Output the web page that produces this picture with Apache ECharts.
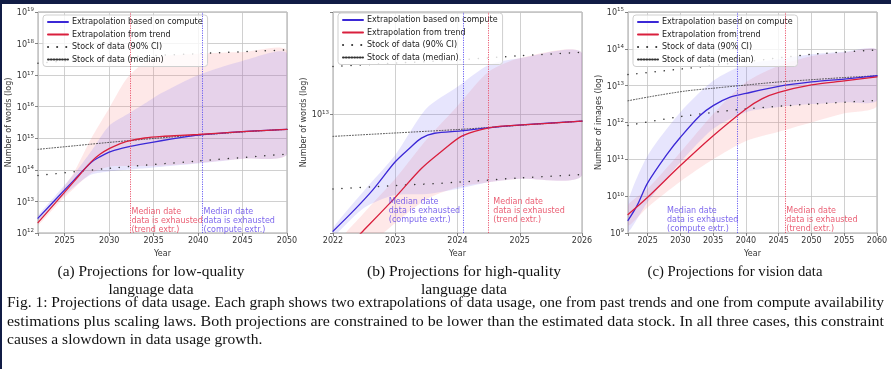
<!DOCTYPE html>
<html><head><meta charset="utf-8">
<script src="https://cdn.jsdelivr.net/npm/echarts@6/dist/echarts.min.js"></script>
<style>html,body{margin:0;padding:0;background:#fff}#c{width:891px;height:369px}</style>
</head><body><div id="c"></div>
<script>
// ---------------- DATA ----------------
const LEGEND_NAMES = ['Extrapolation based on compute', 'Extrapolation from trend', 'Stock of data (90% CI)', 'Stock of data (median)'];

// (a) low-quality language data
const A_YEARS = [2022, 2024, 2026, 2028, 2029, 2030, 2031, 2032, 2034, 2036, 2038, 2040, 2045, 2050];
const A_COMPUTE = [2.95e12, 1.17e13, 4.57e13, 1.74e14, 2.63e14, 3.63e14, 4.47e14, 5.25e14, 6.76e14, 8.51e14, 1.05e15, 1.26e15, 1.62e15, 1.91e15];
const A_TREND = [2.14e12, 9.33e12, 4.17e13, 1.82e14, 3.16e14, 4.68e14, 6.31e14, 7.94e14, 1.02e15, 1.15e15, 1.23e15, 1.32e15, 1.62e15, 1.91e15];
const A_MED_YEARS = [2022, 2026, 2030, 2034, 2038, 2042, 2046, 2050];
const A_MEDIAN = [4.47e14, 5.75e14, 7.41e14, 9.33e14, 1.15e15, 1.38e15, 1.66e15, 1.91e15];
const A_CI_YEARS = [2022, 2030, 2040, 2050];
const A_CI_HIGH = [2.4e17, 3.55e17, 4.79e17, 6.31e17];
const A_CI_LOW = [6.61e13, 1.12e14, 1.91e14, 3.16e14];
const A_BAND_YEARS = [2022, 2024, 2026, 2028, 2030, 2032, 2034, 2036, 2040, 2045, 2050];
const A_COMPUTE_HIGH = [3.55e12, 1.58e13, 7.08e13, 3.98e14, 2.51e15, 5.62e15, 1.26e16, 2.82e16, 1e17, 2.82e17, 4.79e17];
const A_COMPUTE_LOW = [2.4e12, 8.91e12, 2.82e13, 7.08e13, 8.91e13, 1e14, 1.12e14, 1.26e14, 1.58e14, 2.24e14, 3.16e14];
const A_TREND_HIGH = [2.63e12, 1.26e13, 7.94e13, 1e15, 8.91e15, 7.94e16, 2.51e17, 3.98e17, 4.79e17, 5.37e17, 6.03e17];
const A_TREND_LOW = [1.78e12, 7.08e12, 2.51e13, 7.94e13, 1.26e14, 1.32e14, 1.32e14, 1.38e14, 1.66e14, 2.24e14, 3.16e14];
const A_EXHAUST_TREND = 2032.4;
const A_EXHAUST_COMPUTE = 2040.5;

// (b) high-quality language data
const B_COMPUTE_YEARS = [2022, 2022.32, 2022.64, 2023, 2023.23, 2023.42, 2023.63, 2024.06, 2024.49, 2025.03, 2026];
const B_COMPUTE = [2.05e12, 2.68e12, 3.59e12, 5.25e12, 6.31e12, 7.24e12, 7.73e12, 7.98e12, 8.32e12, 8.65e12, 9.12e12];
const B_TREND_YEARS = [2022, 2022.48, 2022.99, 2023.42, 2023.74, 2024.06, 2024.38, 2024.7, 2025.03, 2026];
const B_TREND = [1.35e12, 2.05e12, 3.21e12, 4.79e12, 6.03e12, 7.41e12, 8.13e12, 8.51e12, 8.65e12, 9.12e12];
const B_STOCK_YEARS = [2022, 2023, 2024, 2025, 2026];
const B_MEDIAN = [7.41e12, 7.76e12, 8.13e12, 8.61e12, 9.12e12];
const B_CI_HIGH = [1.91e13, 2.0e13, 2.09e13, 2.21e13, 2.32e13];
const B_CI_LOW = [3.63e12, 3.8e12, 3.98e12, 4.22e12, 4.42e12];
const B_BAND_YEARS = [2022, 2022.5, 2023, 2023.5, 2024, 2024.5, 2025, 2026];
const B_COMPUTE_HIGH = [2.14e12, 3.55e12, 5.75e12, 1.08e13, 1.45e13, 1.95e13, 2.14e13, 2.29e13];
const B_COMPUTE_LOW = [1.91e12, 2.82e12, 3.35e12, 3.39e12, 3.63e12, 3.98e12, 4.17e12, 4.37e12];
const B_TREND_HIGH = [1.58e12, 2.63e12, 4.17e12, 7.08e12, 1.12e13, 1.78e13, 2.14e13, 2.29e13];
const B_TREND_LOW = [1e12, 1.58e12, 2.29e12, 3.16e12, 3.72e12, 3.98e12, 4.17e12, 4.37e12];
const B_EXHAUST_COMPUTE = 2024.1;
const B_EXHAUST_TREND = 2024.5;

// (c) vision data
const C_COMPUTE_YEARS = [2022, 2023.4, 2025, 2028, 2030, 2033, 2035, 2037.5, 2040, 2045, 2050, 2055, 2060];
const C_COMPUTE = [2.19e9, 5.62e9, 2.29e10, 1.41e11, 3.98e11, 1.55e12, 2.88e12, 4.79e12, 6.17e12, 9.55e12, 1.26e13, 1.51e13, 1.86e13];
const C_TREND_YEARS = [2022, 2025, 2030, 2035, 2040, 2042.5, 2045, 2050, 2055, 2060];
const C_TREND = [3.16e9, 9.33e9, 6.76e10, 4.37e11, 2.34e12, 4.47e12, 6.61e12, 1.05e13, 1.35e13, 1.74e13];
const C_MED_YEARS = [2022, 2026, 2031, 2035, 2039, 2045, 2050, 2055, 2060];
const C_MEDIAN = [3.89e12, 5.25e12, 7.24e12, 8.51e12, 1e13, 1.26e13, 1.45e13, 1.66e13, 1.86e13];
const C_CI_YEARS = [2022, 2030, 2040, 2050, 2060];
const C_CI_HIGH = [2e13, 2.82e13, 4.47e13, 7.08e13, 9.33e13];
const C_CI_LOW = [8.32e11, 1.45e12, 2.34e12, 3.16e12, 3.98e12];
const C_BAND_YEARS = [2022, 2025, 2030, 2035, 2040, 2045, 2050, 2055, 2060];
const C_COMPUTE_HIGH = [6.92e9, 1.26e11, 1.91e12, 1.35e13, 3.8e13, 5.25e13, 7.08e13, 8.32e13, 9.33e13];
const C_COMPUTE_LOW = [1.07e9, 6.92e9, 8.32e10, 6.76e11, 1.91e12, 2.63e12, 3.16e12, 3.55e12, 3.98e12];
const C_TREND_HIGH = [5.62e9, 1.58e10, 1.55e11, 1.7e12, 1.23e13, 3.47e13, 6.31e13, 7.94e13, 9.33e13];
const C_TREND_LOW = [1.58e9, 5.01e9, 2.51e10, 1e11, 3.16e11, 5.62e11, 1e12, 1.78e12, 2.82e12];
const C_EXHAUST_COMPUTE = 2038.7;
const C_EXHAUST_TREND = 2046.0;

const NOTE_TREND = 'Median date\ndata is exhausted\n(trend extr.)';
const NOTE_COMPUTE = 'Median date\ndata is exhausted\n(compute extr.)';

const SUB_CAPTIONS = [
  ['(a) Projections for low-quality', 'language data'],
  ['(b) Projections for high-quality', 'language data'],
  ['(c) Projections for vision data']
];
const CAPTION_LINES = [
  'Fig. 1: Projections of data usage. Each graph shows two extrapolations of data usage, one from past trends and one from compute availability',
  'estimations plus scaling laws. Both projections are constrained to be lower than the estimated data stock. In all three cases, this constraint',
  'causes a slowdown in data usage growth.'
];

// ---------------- STYLE ----------------
const BLUE = '#3b28d6', RED = '#d91f3d';
const BLUE_TXT = '#5a3ee8', RED_TXT = '#e5354f';
const BLUE_BAND = 'rgba(105,95,240,0.16)', RED_BAND = 'rgba(250,115,115,0.16)';
const SANS = 'DejaVu Sans';
const SERIF = 'Liberation Serif';

const PANELS = [
  {left: 38, xMin: 2022, xMax: 2050, split: 6, yMin: 1e12, yMax: 1e19, yName: 'Number of words (log)',
   compute: [A_YEARS, A_COMPUTE], trend: [A_YEARS, A_TREND], median: [A_MED_YEARS, A_MEDIAN],
   ciHigh: [A_CI_YEARS, A_CI_HIGH], ciLow: [A_CI_YEARS, A_CI_LOW],
   bandC: [A_BAND_YEARS, A_COMPUTE_HIGH, A_COMPUTE_LOW], bandT: [A_BAND_YEARS, A_TREND_HIGH, A_TREND_LOW],
   exC: A_EXHAUST_COMPUTE, exT: A_EXHAUST_TREND,
   noteC: [A_EXHAUST_COMPUTE, 2.45e12], noteT: [A_EXHAUST_TREND, 2.45e12], legendTop: 15},
  {left: 333, xMin: 2022, xMax: 2026, interval: 1, yMin: 2e12, yMax: 4e13, yName: 'Number of words (log)',
   compute: [B_COMPUTE_YEARS, B_COMPUTE], trend: [B_TREND_YEARS, B_TREND], median: [B_STOCK_YEARS, B_MEDIAN],
   ciHigh: [B_STOCK_YEARS, B_CI_HIGH], ciLow: [B_STOCK_YEARS, B_CI_LOW],
   bandC: [B_BAND_YEARS, B_COMPUTE_HIGH, B_COMPUTE_LOW], bandT: [B_BAND_YEARS, B_TREND_HIGH, B_TREND_LOW],
   exC: B_EXHAUST_COMPUTE, exT: B_EXHAUST_TREND,
   noteC: [2022.88, 2.69e12], noteT: [2024.56, 2.69e12], legendTop: 13},
  {left: 628, xMin: 2022, xMax: 2060, split: 8, yMin: 1e9, yMax: 1e15, yName: 'Number of images (log)',
   compute: [C_COMPUTE_YEARS, C_COMPUTE], trend: [C_TREND_YEARS, C_TREND], median: [C_MED_YEARS, C_MEDIAN],
   ciHigh: [C_CI_YEARS, C_CI_HIGH], ciLow: [C_CI_YEARS, C_CI_LOW],
   bandC: [C_BAND_YEARS, C_COMPUTE_HIGH, C_COMPUTE_LOW], bandT: [C_BAND_YEARS, C_TREND_HIGH, C_TREND_LOW],
   exC: C_EXHAUST_COMPUTE, exT: C_EXHAUST_TREND,
   noteC: [2027.8, 2.29e9], noteT: [C_EXHAUST_TREND, 2.29e9], legendTop: 15}
];

const PLOT_TOP = 12, PLOT_W = 249, PLOT_H = 221;

function pairs(xs, ys) { return xs.map((x, k) => [x, ys[k]]); }

function lineSeries(i, name, d, color, width, type, z) {
  return {type: 'line', name, xAxisIndex: i, yAxisIndex: i, data: pairs(d[0], d[1]),
    symbol: 'none', smooth: 0.3, clip: true, silent: true, z,
    lineStyle: {color, width, type, cap: 'round'}, itemStyle: {color}};
}

function bandSeries(i, d, fill) {
  const xs = d[0], hi = d[1], lo = d[2];
  return {type: 'custom', name: 'band', xAxisIndex: i, yAxisIndex: i, clip: true, silent: true, z: 1,
    data: [[xs[0], hi[0]]],
    renderItem: (params, api) => {
      const top = xs.map((x, k) => api.coord([x, hi[k]]));
      const bot = xs.map((x, k) => api.coord([x, lo[k]])).reverse();
      return {type: 'polygon', shape: {points: top.concat(bot), smooth: 0.25, smoothConstraint: false},
        style: {fill, stroke: null}};
    }};
}

function noteSeries(i, pt, text, color) {
  return {type: 'scatter', name: 'note', xAxisIndex: i, yAxisIndex: i, silent: true, z: 6,
    symbolSize: 0, data: [pt],
    label: {show: true, position: 'right', distance: 1, formatter: text, color,
      fontSize: 8, lineHeight: 9.2, fontFamily: SANS}};
}

function yLabel(v) {
  const e = Math.log10(v);
  if (Math.abs(e - Math.round(e)) > 1e-6) return '';
  return '{b|10}{s|' + Math.round(e) + '}';
}

const option = {animation: false, grid: [], xAxis: [], yAxis: [], legend: [], series: [], graphic: []};

PANELS.forEach((p, i) => {
  option.grid.push({left: p.left, top: PLOT_TOP, width: PLOT_W, height: PLOT_H, show: true,
    borderColor: '#a3a3a3', borderWidth: 1, backgroundColor: 'transparent'});
  const xa = {gridIndex: i, type: 'value', min: p.xMin, max: p.xMax,
    axisLine: {show: false}, axisTick: {show: true, length: 3, lineStyle: {color: '#666', width: 0.8}},
    axisLabel: {fontSize: 8, color: '#333', fontFamily: SANS, margin: 4,
      formatter: v => (p.interval ? String(v) : (v % 5 === 0 ? String(v) : ''))},
    splitLine: {show: true, lineStyle: {color: '#c4c4c4', width: 0.8}},
    name: 'Year', nameLocation: 'middle', nameGap: 13,
    nameTextStyle: {fontSize: 8, color: '#333', fontFamily: SANS}};
  if (p.interval) xa.interval = p.interval; else xa.splitNumber = p.split;
  option.xAxis.push(xa);
  option.yAxis.push({gridIndex: i, type: 'log', logBase: 10, min: p.yMin, max: p.yMax,
    axisLine: {show: false}, axisTick: {show: true, length: 3, lineStyle: {color: '#666', width: 0.8}},
    axisLabel: {formatter: yLabel, margin: 4, color: '#333', fontFamily: SANS,
      rich: {b: {fontSize: 8, lineHeight: 10, verticalAlign: 'bottom', color: '#333', fontFamily: SANS},
             s: {fontSize: 5.5, lineHeight: 6, verticalAlign: 'top', color: '#333', fontFamily: SANS}}},
    splitLine: {show: true, lineStyle: {color: '#c4c4c4', width: 0.8}},
    minorTick: {show: false},
    name: p.yName, nameLocation: 'middle', nameGap: 23,
    nameTextStyle: {fontSize: 8, color: '#333', fontFamily: SANS}});
  option.legend.push({left: p.left + 5, top: p.legendTop, orient: 'vertical', data: LEGEND_NAMES,
    itemWidth: 20, itemHeight: 8, itemGap: 4.5, padding: [3, 5, 3, 4],
    selectedMode: false, borderColor: '#cfcfcf', borderWidth: 1, borderRadius: 3,
    backgroundColor: 'rgba(255,255,255,0.8)',
    itemStyle: {color: 'rgba(0,0,0,0)', borderWidth: 0, opacity: 0},
    textStyle: {fontSize: 8, color: '#222', fontFamily: SANS, padding: [0, 0, 0, -1]}});

  option.series.push(bandSeries(i, p.bandT, RED_BAND));
  option.series.push(bandSeries(i, p.bandC, BLUE_BAND));
  option.series.push(lineSeries(i, LEGEND_NAMES[2], p.ciHigh, '#333', 1.5, [0.1, 9], 3));
  option.series.push(lineSeries(i, LEGEND_NAMES[2], p.ciLow, '#333', 1.5, [0.1, 9], 3));
  option.series.push(lineSeries(i, LEGEND_NAMES[3], p.median, '#333', 0.9, [0.9, 1.9], 3));
  const sC = lineSeries(i, LEGEND_NAMES[0], p.compute, BLUE, 1.3, 'solid', 4);
  sC.markLine = {symbol: 'none', silent: true, label: {show: false},
    lineStyle: {type: [1.2, 1.2], color: '#5b4ff2', width: 0.9}, data: [{xAxis: p.exC}]};
  const sT = lineSeries(i, LEGEND_NAMES[1], p.trend, RED, 1.3, 'solid', 5);
  sT.markLine = {symbol: 'none', silent: true, label: {show: false},
    lineStyle: {type: [1.2, 1.2], color: '#ea4a63', width: 0.9}, data: [{xAxis: p.exT}]};
  option.series.push(sC, sT);
  option.series.push(noteSeries(i, p.noteC, NOTE_COMPUTE, BLUE_TXT));
  option.series.push(noteSeries(i, p.noteT, NOTE_TREND, RED_TXT));
});

// ------------- captions (text) -------------
const ctx = document.createElement('canvas').getContext('2d');
function textWidth(t, size) { ctx.font = size + 'px "' + SERIF + '"'; return ctx.measureText(t).width; }
const CAP_SIZE = 14;
const SUB_CENTERS = [151, 464, 735];
const SUB_WIDTHS = [187, 194, 175];
SUB_CAPTIONS.forEach((lines, k) => {
  const sc = SUB_WIDTHS[k] / textWidth(lines[0], CAP_SIZE);
  lines.forEach((t, j) => {
    option.graphic.push({type: 'text', x: SUB_CENTERS[k], y: 272 + j * 18, scaleX: sc, silent: true,
      style: {text: t, fontSize: CAP_SIZE, fontFamily: SERIF, fill: '#111',
        align: 'center', verticalAlign: 'middle', textAlign: 'center', textVerticalAlign: 'middle'}});
  });
});
const CAP_LEFT = 7, CAP_RIGHT = 884;
const capScale = (CAP_RIGHT - CAP_LEFT) / textWidth(CAPTION_LINES[0], CAP_SIZE);
CAPTION_LINES.forEach((t, j) => {
  const sc = j < 2 ? (CAP_RIGHT - CAP_LEFT) / textWidth(t, CAP_SIZE) : capScale;
  option.graphic.push({type: 'text', x: CAP_LEFT, y: 303.5 + j * 18.5, scaleX: sc, silent: true,
    style: {text: t, fontSize: CAP_SIZE, fontFamily: SERIF, fill: '#111',
      align: 'left', verticalAlign: 'middle', textAlign: 'left', textVerticalAlign: 'middle'}});
});
// screenshot frame
option.graphic.push({type: 'rect', silent: true, z: 100, shape: {x: 0, y: 0, width: 891, height: 4}, style: {fill: '#111c45'}});
option.graphic.push({type: 'rect', silent: true, z: 100, shape: {x: 0, y: 0, width: 2, height: 369}, style: {fill: '#111c45'}});

const chart = echarts.init(document.getElementById('c'), null, {renderer: 'canvas'});
chart.setOption(option);
</script></body></html>
